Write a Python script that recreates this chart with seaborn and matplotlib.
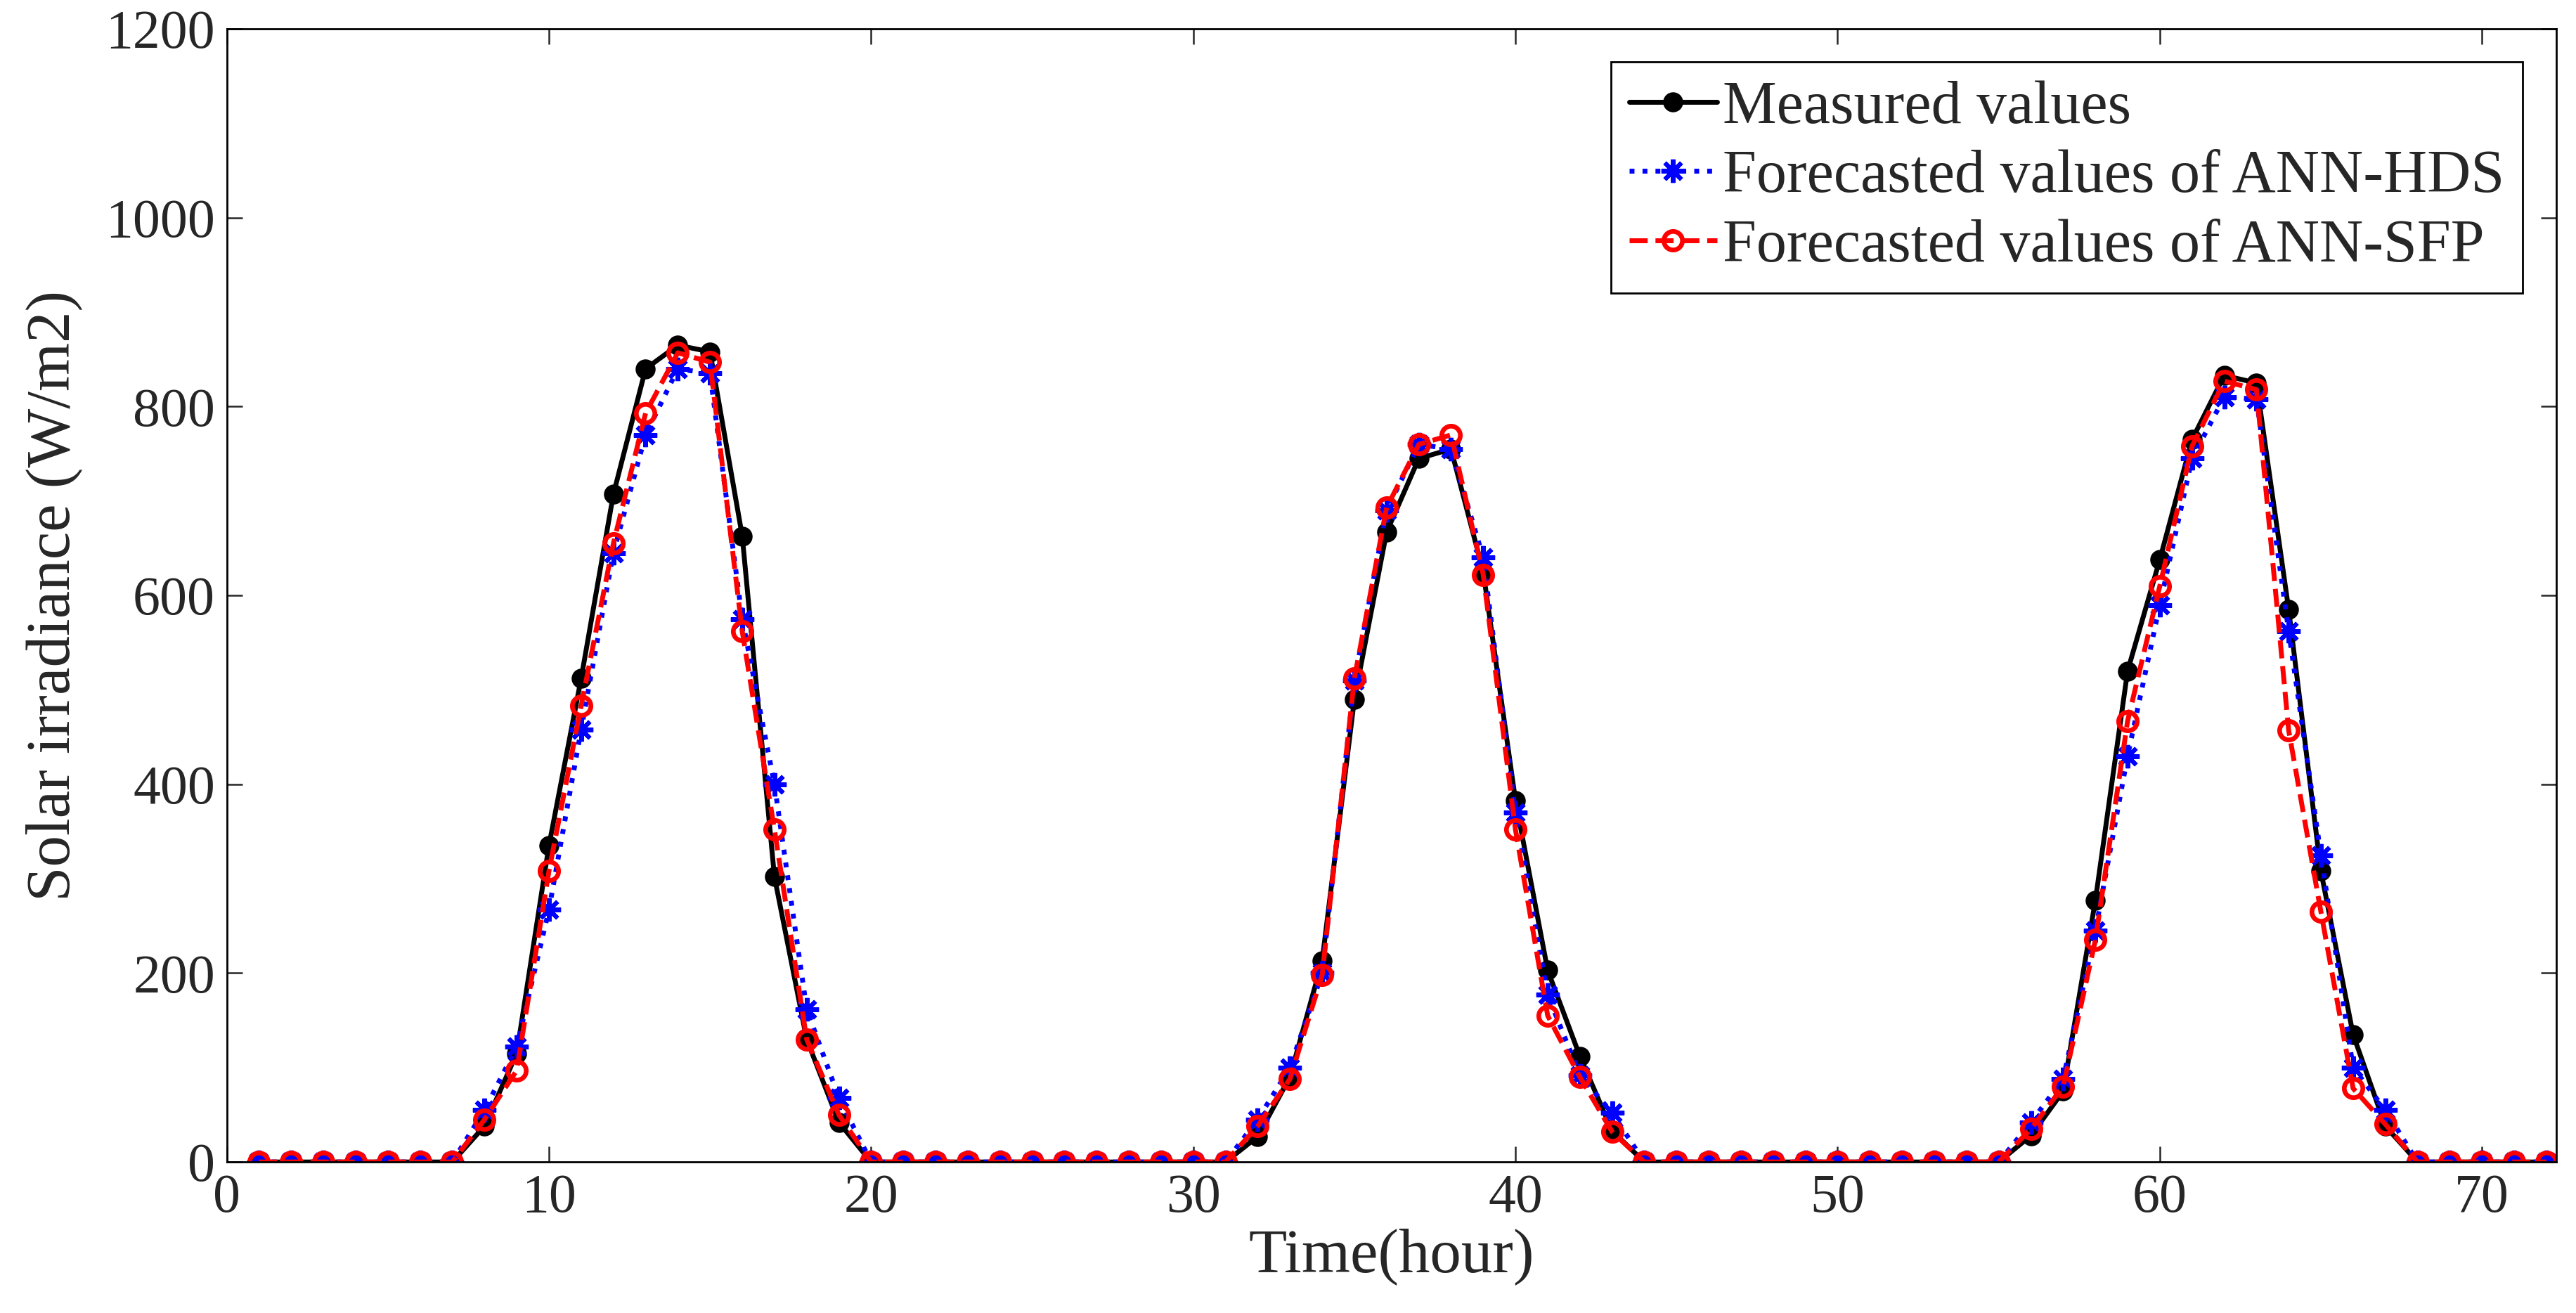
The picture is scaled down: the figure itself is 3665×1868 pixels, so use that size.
import numpy as np
import pandas as pd
import matplotlib
matplotlib.use("Agg")
import matplotlib.pyplot as plt
import seaborn as sns

# hourly values (W/m2), hours 1..72
hours = list(range(1, 73))

measured_day1 = [0, 0, 0, 0, 0, 0, 0, 38, 115, 335, 512, 707, 840, 865, 858, 663, 302, 130, 42, 0]
measured_day2 = [0] * 11 + [27, 90, 213, 490, 667, 745, 755, 625, 383, 203, 112, 33, 0]
measured_day3 = [0] * 11 + [28, 75, 277, 520, 638, 765, 833, 825, 585, 308, 135, 38, 0, 0, 0, 0, 0]
measured = measured_day1 + measured_day2 + measured_day3

hds_day1 = [0, 0, 0, 0, 0, 0, 0, 55, 122, 267, 458, 645, 770, 840, 835, 575, 400, 162, 68, 0]
hds_day2 = [0] * 11 + [45, 100, 200, 510, 690, 760, 755, 640, 370, 177, 92, 52, 0]
hds_day3 = [0] * 11 + [42, 88, 245, 430, 590, 745, 810, 808, 562, 325, 100, 55, 0, 0, 0, 0, 0]
hds = hds_day1 + hds_day2 + hds_day3

sfp_day1 = [0, 0, 0, 0, 0, 0, 0, 45, 97, 308, 483, 655, 793, 857, 847, 562, 352, 130, 50, 0]
sfp_day2 = [0] * 11 + [38, 88, 198, 512, 693, 760, 770, 622, 352, 155, 90, 32, 0]
sfp_day3 = [0] * 11 + [35, 80, 235, 467, 610, 758, 827, 818, 457, 265, 78, 40, 0, 0, 0, 0, 0]
sfp = sfp_day1 + sfp_day2 + sfp_day3

labels = ["Measured values", "Forecasted values of ANN-HDS", "Forecasted values of ANN-SFP"]

df = pd.DataFrame({"hour": hours, "measured": measured, "hds": hds, "sfp": sfp})

sns.set_style("ticks")
plt.rcParams["font.family"] = ["Liberation Serif", "DejaVu Serif"]
plt.rcParams["xtick.direction"] = "in"
plt.rcParams["ytick.direction"] = "in"
plt.rcParams["xtick.top"] = True
plt.rcParams["ytick.right"] = True

fig, ax = plt.subplots(figsize=(18.33, 9.34), dpi=200)
fig.subplots_adjust(left=0.088, right=0.992, bottom=0.115, top=0.978)

sns.lineplot(data=df, x="hour", y="measured", ax=ax, color="black", lw=2.5,
             marker="o", markersize=9.5, markeredgecolor="black", label=labels[0])
sns.lineplot(data=df, x="hour", y="hds", ax=ax, color="blue", lw=2.5, linestyle=":",
             marker=(8, 2, 0), markersize=12, markeredgewidth=2.2, markeredgecolor="blue",
             label=labels[1])
sns.lineplot(data=df, x="hour", y="sfp", ax=ax, color="red", lw=2.5, linestyle="--",
             marker="o", markersize=9.5, markerfacecolor="none", markeredgewidth=2.4,
             markeredgecolor="red", label=labels[2])

ax.set_xlim(0, 72.3)
ax.set_ylim(0, 1200)
ax.set_xticks(range(0, 71, 10))
ax.set_yticks(range(0, 1201, 200))
ax.tick_params(axis="both", which="major", labelsize=28, length=8, width=0.9, pad=6)
for s in ax.spines.values():
    s.set_linewidth(1.0)
    s.set_color("black")

ax.set_xlabel("Time(hour)", fontsize=32, labelpad=2)
ax.set_ylabel("Solar irradiance (W/m2)", fontsize=32, labelpad=12)

leg = ax.legend(loc="upper right", fontsize=31, frameon=True, fancybox=False,
                edgecolor="black", framealpha=1, handlelength=1.45, handletextpad=0.1,
                borderaxespad=0.55, labelspacing=0.22, borderpad=0.3)
leg.get_frame().set_linewidth(1.0)

fig.savefig("out.png", dpi=200)
